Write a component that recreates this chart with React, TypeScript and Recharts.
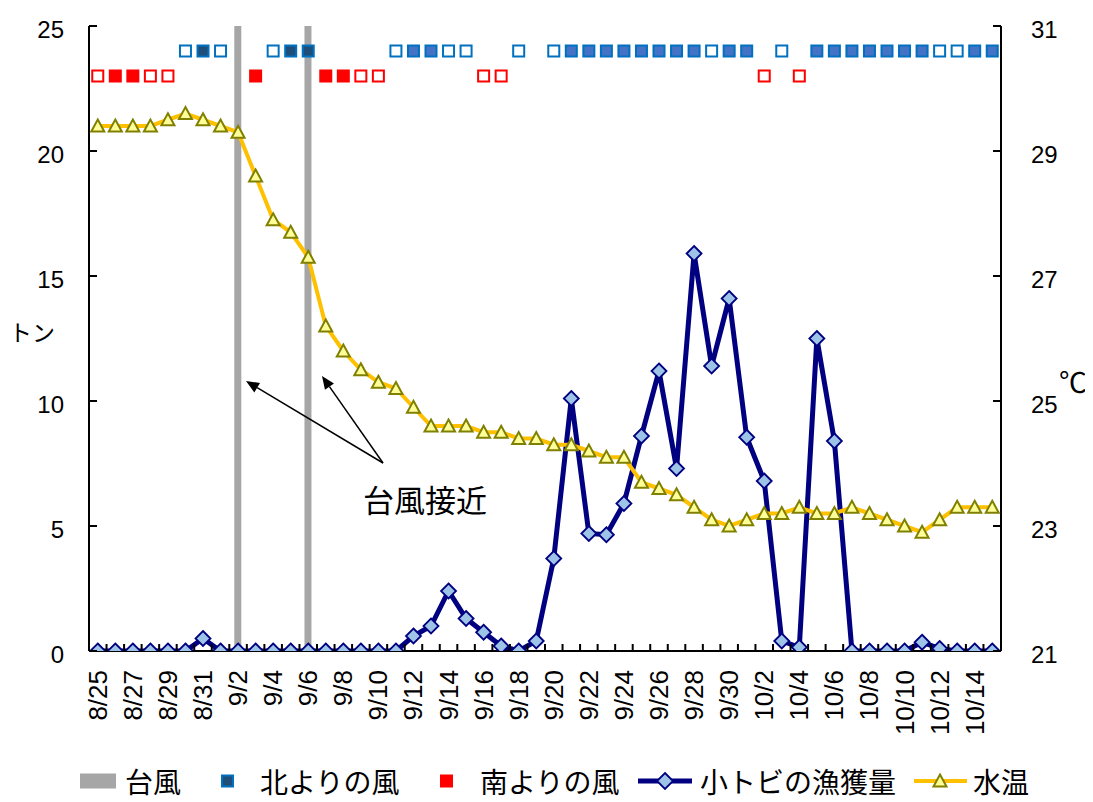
import React from 'react';
import { ComposedChart, Line, Bar, XAxis, YAxis, Legend } from 'recharts';

const dates = [
  '8/25', '8/26', '8/27', '8/28', '8/29', '8/30', '8/31',
  '9/1', '9/2', '9/3', '9/4', '9/5', '9/6', '9/7', '9/8', '9/9', '9/10',
  '9/11', '9/12', '9/13', '9/14', '9/15', '9/16', '9/17', '9/18', '9/19', '9/20',
  '9/21', '9/22', '9/23', '9/24', '9/25', '9/26', '9/27', '9/28', '9/29', '9/30',
  '10/1', '10/2', '10/3', '10/4', '10/5', '10/6', '10/7', '10/8', '10/9', '10/10',
  '10/11', '10/12', '10/13', '10/14', '10/15',
];

// 小トビの漁獲量 (トン)
const catchTons = [
  0, 0, 0, 0, 0, 0, 0.5,
  0, 0, 0, 0, 0, 0, 0, 0, 0, 0,
  0, 0.6, 1.0, 2.4, 1.3, 0.75, 0.2, 0, 0.4, 3.7,
  10.1, 4.7, 4.65, 5.9, 8.6, 11.2, 7.3, 15.9, 11.4, 14.1,
  8.55, 6.8, 0.4, 0.15, 12.5, 8.4, 0, 0, 0, 0,
  0.35, 0.1, 0, 0, 0,
];

// 水温 (°C)
const waterTemp = [
  29.4, 29.4, 29.4, 29.4, 29.5, 29.6, 29.5,
  29.4, 29.3, 28.6, 27.9, 27.7, 27.3, 26.2, 25.8, 25.5, 25.3,
  25.2, 24.9, 24.6, 24.6, 24.6, 24.5, 24.5, 24.4, 24.4, 24.3,
  24.3, 24.2, 24.1, 24.1, 23.7, 23.6, 23.5, 23.3, 23.1, 23.0,
  23.1, 23.2, 23.2, 23.3, 23.2, 23.2, 23.3, 23.2, 23.1, 23.0,
  22.9, 23.1, 23.3, 23.3, 23.3,
];

const N = null;
// 台風
const typhoon = [
  N, N, N, N, N, N, N,
  N, 25, N, N, N, 25, N, N, N, N,
  N, N, N, N, N, N, N, N, N, N,
  N, N, N, N, N, N, N, N, N, N,
  N, N, N, N, N, N, N, N, N, N,
  N, N, N, N, N,
];
// 北よりの風 (filled, dark)
const northDark = [
  N, N, N, N, N, N, 24,
  N, N, N, N, 24, 24, N, N, N, N,
  N, N, N, N, N, N, N, N, N, N,
  N, N, N, N, N, N, N, N, N, N,
  N, N, N, N, N, N, N, N, N, N,
  N, N, N, N, N,
];
// 北よりの風 (filled, blue)
const northBlue = [
  N, N, N, N, N, N, N,
  N, N, N, N, N, N, N, N, N, N,
  N, 24, 24, N, N, N, N, N, N, N,
  24, 24, 24, 24, 24, 24, 24, 24, N, 24,
  24, N, N, N, 24, 24, 24, 24, 24, 24,
  24, N, N, 24, 24,
];
// 北よりの風 (open)
const northOpen = [
  N, N, N, N, N, 24, N,
  24, N, N, 24, N, N, N, N, N, N,
  24, N, N, 24, 24, N, N, 24, N, 24,
  N, N, N, N, N, N, N, N, 24, N,
  N, N, 24, N, N, N, N, N, N, N,
  N, 24, 24, N, N,
];
// 南よりの風 (filled)
const southFilled = [
  N, 23, 23, N, N, N, N,
  N, N, 23, N, N, N, 23, 23, N, N,
  N, N, N, N, N, N, N, N, N, N,
  N, N, N, N, N, N, N, N, N, N,
  N, N, N, N, N, N, N, N, N, N,
  N, N, N, N, N,
];
// 南よりの風 (open)
const southOpen = [
  23, N, N, 23, 23, N, N,
  N, N, N, N, N, N, N, N, 23, 23,
  N, N, N, N, N, 23, 23, N, N, N,
  N, N, N, N, N, N, N, N, N, N,
  N, 23, N, 23, N, N, N, N, N, N,
  N, N, N, N, N,
];

const leftTicks = [0, 5, 10, 15, 20, 25];
const rightTicks = [21, 23, 25, 27, 29, 31];

const data = dates.map((d, i) => ({
  date: d,
  catchTons: catchTons[i],
  waterTemp: waterTemp[i],
  typhoon: typhoon[i],
  northDark: northDark[i],
  northBlue: northBlue[i],
  northOpen: northOpen[i],
  southFilled: southFilled[i],
  southOpen: southOpen[i],
}));

const W = 1085;
const H = 794;
const LEG_H = 44;
const PLOT_L = 81;
const PLOT_R = 993;
const BW = (PLOT_R - PLOT_L) / dates.length;
const NUM_FONT = '"Liberation Sans", Arial, sans-serif';
const JP_FONT = '"Noto Sans CJK JP", "Noto Sans", sans-serif';

const LeftTick = (props: any) => {
  const { x, y, payload } = props;
  return (
    <g>
      <line x1={x} x2={x + 8} y1={y} y2={y} stroke="#000" strokeWidth={2} />
      <text x={x - 25} y={y} dy={3} textAnchor="end" dominantBaseline="central" fontSize={24} fontFamily={NUM_FONT} fill="#000">
        {payload.value}
      </text>
    </g>
  );
};

const RightTick = (props: any) => {
  const { x, y, payload } = props;
  return (
    <g>
      <line x1={x} x2={x - 8} y1={y} y2={y} stroke="#000" strokeWidth={2} />
      <text x={x + 30} y={y} dy={3} textAnchor="start" dominantBaseline="central" fontSize={24} fontFamily={NUM_FONT} fill="#000">
        {payload.value}
      </text>
    </g>
  );
};

const BottomTick = (props: any) => {
  const { x, y, payload, index } = props;
  const bx = x - BW / 2;
  return (
    <g>
      <line x1={bx} x2={bx} y1={y} y2={y - 7} stroke="#000" strokeWidth={2} />
      {index % 2 === 0 ? (
        <text
          x={x}
          y={y + 19}
          transform={`rotate(-90 ${x} ${y + 19})`}
          textAnchor="end"
          dominantBaseline="central"
          fontSize={26}
          fontFamily={NUM_FONT}
          fill="#000"
        >
          {payload.value}
        </text>
      ) : null}
    </g>
  );
};

const squareDot = (fill: string, stroke: string) => (props: any) => {
  const { cx, cy, index, value } = props;
  if (cx == null || cy == null || value == null) return <g key={`s-${index}`} />;
  return <rect key={`s-${index}`} x={cx - 5.5} y={cy - 5.5} width={11} height={11} fill={fill} stroke={stroke} strokeWidth={2} />;
};

const diamondDot = (props: any) => {
  const { cx, cy, index, value } = props;
  if (cx == null || cy == null || value == null) return <g key={`d-${index}`} />;
  const r = 7.5;
  return (
    <polygon
      key={`d-${index}`}
      points={`${cx},${cy - r} ${cx + r},${cy} ${cx},${cy + r} ${cx - r},${cy}`}
      fill="#9DC3E6"
      stroke="#000080"
      strokeWidth={1.8}
    />
  );
};

const triangleDot = (props: any) => {
  const { cx, cy, index, value } = props;
  if (cx == null || cy == null || value == null) return <g key={`t-${index}`} />;
  return (
    <polygon
      key={`t-${index}`}
      points={`${cx},${cy - 6.5} ${cx + 6.5},${cy + 5.5} ${cx - 6.5},${cy + 5.5}`}
      fill="#FFFF99"
      stroke="#808000"
      strokeWidth={2}
    />
  );
};

const LegendContent = () => {
  const cy = 23;
  const txt = (x: number, s: string) => (
    <text x={x} y={cy} dominantBaseline="central" fontSize={28} fontFamily={JP_FONT} fill="#000">
      {s}
    </text>
  );
  return (
    <svg width={W} height={LEG_H} style={{ display: 'block' }}>
      <rect x={72} y={cy - 7.5} width={36} height={15} fill="#A6A6A6" />
      {txt(117, '台風')}
      <rect x={214} y={cy - 5.5} width={11} height={11} fill="#1F4E79" stroke="#0070C0" strokeWidth={2} />
      {txt(252, '北よりの風')}
      <rect x={433} y={cy - 5.5} width={11} height={11} fill="#FF0000" stroke="#FF0000" strokeWidth={2} />
      {txt(472, '南よりの風')}
      <line x1={630} x2={684} y1={cy} y2={cy} stroke="#000080" strokeWidth={5} />
      <polygon points={`657,${cy - 8} 665,${cy} 657,${cy + 8} 649,${cy}`} fill="#9DC3E6" stroke="#000080" strokeWidth={1.8} />
      {txt(692, '小トビの漁獲量')}
      <line x1={906} x2={959} y1={cy} y2={cy} stroke="#FFC000" strokeWidth={4} />
      <polygon points={`932,${cy - 6.5} 938.5,${cy + 5.5} 925.5,${cy + 5.5}`} fill="#FFFF99" stroke="#808000" strokeWidth={2} />
      {txt(965, '水温')}
    </svg>
  );
};

const arrow = (sx: number, sy: number, ex: number, ey: number) => {
  const dx = ex - sx;
  const dy = ey - sy;
  const len = Math.sqrt(dx * dx + dy * dy);
  const ux = dx / len;
  const uy = dy / len;
  const hl = 13;
  const hw = 5.5;
  const bx = ex - ux * hl;
  const by = ey - uy * hl;
  return (
    <g>
      <line x1={sx} y1={sy} x2={bx} y2={by} stroke="#000" strokeWidth={1.5} />
      <polygon points={`${ex},${ey} ${bx - uy * hw},${by + ux * hw} ${bx + uy * hw},${by - ux * hw}`} fill="#000" />
    </g>
  );
};

export default function App() {
  return (
    <div style={{ position: 'relative', width: W, height: H }}>
      <ComposedChart width={W} height={H} data={data} margin={{ top: 18, right: 0, bottom: 0, left: 0 }}>
        <XAxis
          dataKey="date"
          interval={0}
          height={151 - LEG_H}
          tickSize={0}
          tickMargin={0}
          tickLine={false}
          tick={BottomTick}
          axisLine={{ stroke: '#000', strokeWidth: 2 }}
        />
        <YAxis
          yAxisId="left"
          orientation="left"
          width={81}
          domain={[0, 25]}
          ticks={leftTicks}
          allowDataOverflow
          tickSize={0}
          tickMargin={0}
          tickLine={false}
          tick={LeftTick}
          axisLine={{ stroke: '#000', strokeWidth: 2 }}
        />
        <YAxis
          yAxisId="right"
          orientation="right"
          width={92}
          domain={[21, 31]}
          ticks={rightTicks}
          allowDataOverflow
          tickSize={0}
          tickMargin={0}
          tickLine={false}
          tick={RightTick}
          axisLine={{ stroke: '#000', strokeWidth: 2 }}
        />
        <Legend
          verticalAlign="bottom"
          content={LegendContent}
          wrapperStyle={{ left: 0, bottom: 0, width: W, height: LEG_H }}
        />
        <Bar yAxisId="left" dataKey="typhoon" name="台風" fill="#A6A6A6" barSize={7} isAnimationActive={false} />
        <Line yAxisId="left" dataKey="northOpen" stroke="none" dot={squareDot('#FFFFFF', '#0070C0')} activeDot={false} isAnimationActive={false} legendType="none" />
        <Line yAxisId="left" dataKey="northDark" name="北よりの風" stroke="none" dot={squareDot('#1F4E79', '#0070C0')} activeDot={false} isAnimationActive={false} />
        <Line yAxisId="left" dataKey="northBlue" stroke="none" dot={squareDot('#4472C4', '#0070C0')} activeDot={false} isAnimationActive={false} legendType="none" />
        <Line yAxisId="left" dataKey="southOpen" stroke="none" dot={squareDot('#FFFFFF', '#FF0000')} activeDot={false} isAnimationActive={false} legendType="none" />
        <Line yAxisId="left" dataKey="southFilled" name="南よりの風" stroke="none" dot={squareDot('#FF0000', '#FF0000')} activeDot={false} isAnimationActive={false} />
        <Line yAxisId="left" dataKey="catchTons" name="小トビの漁獲量" stroke="#000080" strokeWidth={5} dot={diamondDot} activeDot={false} isAnimationActive={false} />
        <Line yAxisId="right" dataKey="waterTemp" name="水温" stroke="#FFC000" strokeWidth={4} dot={triangleDot} activeDot={false} isAnimationActive={false} />
      </ComposedChart>
      <svg width={W} height={H} style={{ position: 'absolute', left: 0, top: 0, pointerEvents: 'none' }}>
        <text x={24} y={323} textAnchor="middle" dominantBaseline="central" fontSize={23} fontFamily={JP_FONT} fill="#000">トン</text>
        <text x={1065} y={373} textAnchor="middle" dominantBaseline="central" fontSize={28} fontFamily={JP_FONT} fill="#000">℃</text>
        <text x={417} y={490} textAnchor="middle" dominantBaseline="central" fontSize={31} fontFamily={JP_FONT} fill="#000">台風接近</text>
        {arrow(375, 455, 238, 373)}
        {arrow(375, 455, 314, 368)}
      </svg>
    </div>
  );
}
